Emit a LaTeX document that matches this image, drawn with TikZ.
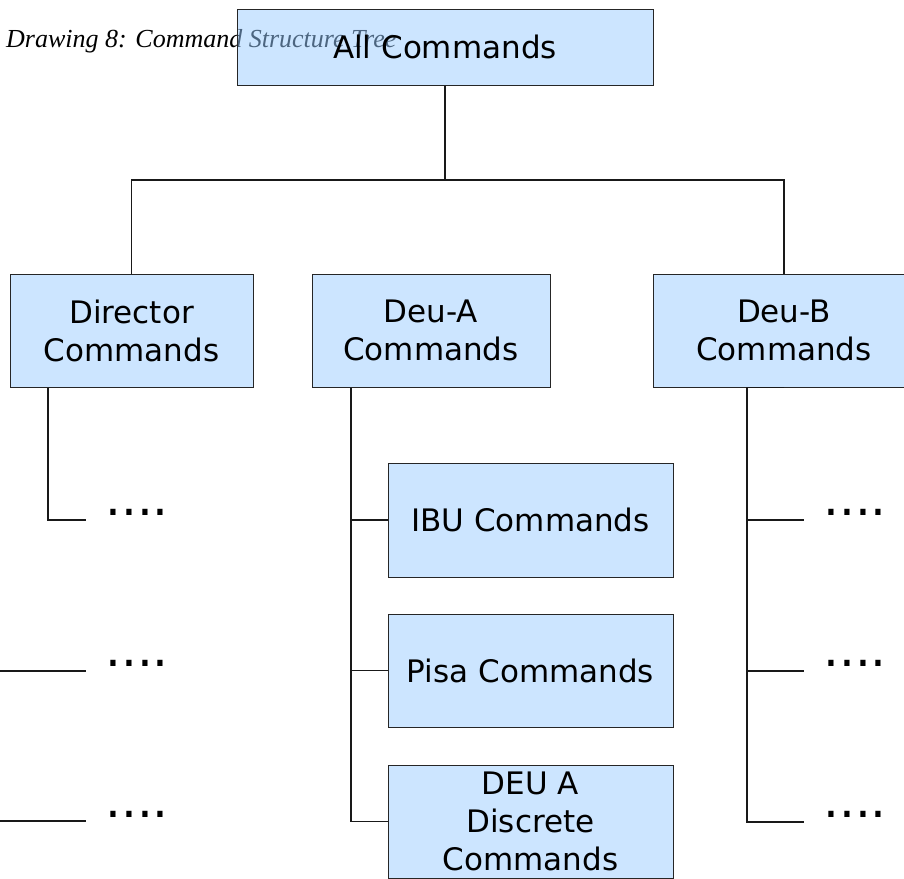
\documentclass[tikz,border=0pt]{standalone}
\usepackage{fontspec}
\setmainfont{DejaVu Sans}
\newfontfamily\titlefont{Liberation Serif}
\usetikzlibrary{calc}
\definecolor{boxblue}{RGB}{153,203,255}
\begin{document}
\begin{tikzpicture}[x=1pt,y=-1pt,
 box/.style={draw=black!85, line width=1pt, fill=boxblue, fill opacity=0.5, text opacity=1, minimum height=113pt, inner sep=0pt, align=center, font=\fontsize{31}{38}\selectfont},
 conn/.style={draw=black!90, line width=1.2pt},
 dotrow/.style={anchor=base west, inner sep=0pt, font=\fontsize{50}{50}\selectfont}]
\useasboundingbox (0,0) rectangle (904,878);
\node[anchor=base west, inner sep=0pt, font=\titlefont\itshape\fontsize{26}{30}\selectfont] (title) at (6,47) {Drawing 8: Command Structure Tree};
\node[box, minimum width=416pt, minimum height=76pt, font=\fontsize{31}{38}\selectfont] (all) at (445,47) {All Commands};
\node[box, minimum width=243pt] (dir) at (131.5,330.5) {Director\\Commands};
\node[box, minimum width=238pt] (dea) at (431,330.5) {Deu-A\\Commands};
\node[box, minimum width=262pt] (deb) at (784,330.5) {Deu-B\\Commands};
\node[box, minimum width=285pt, minimum height=114pt] (ibu) at (530.5,520) {IBU Commands};
\node[box, minimum width=285pt] (pisa) at (530.5,670.5) {Pisa Commands};
\node[box, minimum width=285pt] (disc) at (530.5,821.5) {DEU A\\Discrete\\Commands};
% dots
\node[dotrow] (dl1) at (105,515.5) {....};
\node[dotrow] (dl2) at (105,666.5) {....};
\node[dotrow] (dl3) at (105,817.5) {....};
\node[dotrow] (dr1) at (823,515.5) {....};
\node[dotrow] (dr2) at (823,666.5) {....};
\node[dotrow] (dr3) at (823,817.5) {....};
% top tree
\coordinate (hbar) at (445,180);
\draw[conn] (all.south) -- (hbar);
\draw[conn] (dir.north) |- (hbar) -| (deb.north);
% director branch
\coordinate (d1) at (48,520);
\coordinate (d1e) at (86,520);
\draw[conn] (dir.south -| d1) -- (d1) -- (d1e);
\coordinate (l2s) at (0,671);
\coordinate (l2e) at (86,671);
\coordinate (l3s) at (0,821);
\coordinate (l3e) at (86,821);
\draw[conn] (l2s) -- (l2e);
\draw[conn] (l3s) -- (l3e);
% deu-a branch
\coordinate (a0) at (351,821.5);
\draw[conn] (dea.south -| a0) -- (a0) -- (disc.west);
\draw[conn] (ibu.west -| a0) -- (ibu.west);
\draw[conn] (pisa.west -| a0) -- (pisa.west);
% deu-b branch
\coordinate (b0) at (747,822);
\coordinate (b1e) at (804,520);
\coordinate (b2e) at (804,671);
\coordinate (b3e) at (804,822);
\draw[conn] (deb.south) -- (deb.south -| b0) -- (b0) -- (b3e);
\draw[conn] (b1e -| b0) -- (b1e);
\draw[conn] (b2e -| b0) -- (b2e);
\end{tikzpicture}
\end{document}
